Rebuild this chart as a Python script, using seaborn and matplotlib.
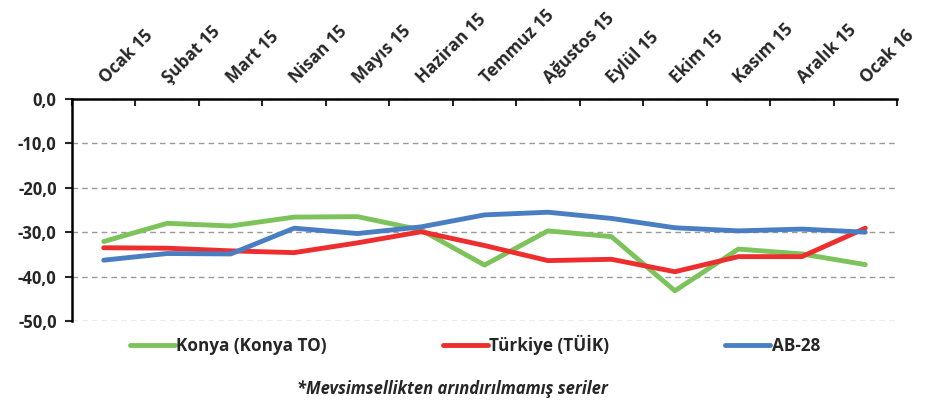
import numpy as np
import pandas as pd
import seaborn as sns
import matplotlib
matplotlib.use("Agg")
import matplotlib.pyplot as plt
import matplotlib.transforms as mtransforms
from matplotlib.ticker import FixedLocator, FuncFormatter

# months on the category axis
months = ["Ocak 15", "Şubat 15", "Mart 15", "Nisan 15", "Mayıs 15", "Haziran 15",
          "Temmuz 15", "Ağustos 15", "Eylül 15", "Ekim 15", "Kasım 15", "Aralık 15", "Ocak 16"]

# series values
konya = [-32.1, -28.0, -28.6, -26.6, -26.5, -29.5, -37.4, -29.7, -31.0, -43.2, -33.8, -34.9, -37.3]
turkiye = [-33.5, -33.6, -34.2, -34.6, -32.4, -29.9, -33.0, -36.4, -36.1, -38.9, -35.5, -35.5, -29.1]
ab28 = [-36.3, -34.8, -34.9, -29.1, -30.3, -28.8, -26.1, -25.5, -26.9, -29.0, -29.7, -29.3, -30.0]

series_names = ["Konya (Konya TO)", "Türkiye (TÜİK)", "AB-28"]
colors = ["#7dc35b", "#ee2e2e", "#4a7ec2"]
yticks = [0, -10, -20, -30, -40, -50]
footnote = "*Mevsimsellikten arındırılmamış seriler"

df = pd.DataFrame({
    "pos": list(range(len(months))) * 3,
    "value": konya + turkiye + ab28,
    "series": np.repeat(series_names, len(months)),
})

sns.set_style("white")
plt.rcParams["font.family"] = ["Open Sans", "DejaVu Sans"]

fig = plt.figure(figsize=(9.26, 4.04), dpi=100)
ax = fig.add_axes([72 / 926, 1 - 321 / 404, (897 - 72) / 926, (321 - 99) / 404])

sns.lineplot(data=df, x="pos", y="value", hue="series", palette=colors,
             hue_order=series_names, linewidth=3.5, ax=ax, legend=False)

ax.set_xlim(-0.5, len(months) - 0.5)
ax.set_ylim(-50, 0)

# x axis on top: ticks at category boundaries, month labels drawn above the centres
ax.xaxis.tick_top()
ax.set_xticks(range(len(months)))
ax.set_xticklabels([])
ax.xaxis.set_minor_locator(FixedLocator(np.arange(-0.5, len(months), 1.0)))
ax.tick_params(axis="x", which="major", length=0)
ax.tick_params(axis="x", which="minor", direction="in", length=5, width=1.5, top=True)

top_trans = mtransforms.blended_transform_factory(ax.transData, ax.transAxes)
top_trans = top_trans + mtransforms.ScaledTranslation(2 / 100, 15 / 100, fig.dpi_scale_trans)
for i, m in enumerate(months):
    ax.text(i, 1, m, transform=top_trans, rotation=45, ha="left", va="baseline",
            rotation_mode="anchor", fontsize=12.3, fontweight="bold", clip_on=False)

ax.set_yticks(yticks)
ax.yaxis.set_major_formatter(FuncFormatter(lambda v, p: f"{v:.1f}".replace(".", ",")))
ax.tick_params(axis="y", direction="out", length=5, width=1.5, labelsize=12, left=True, pad=6)
for lab in ax.get_yticklabels():
    lab.set_fontweight("bold")

ax.yaxis.grid(True, linestyle=(0, (4, 3)), color="#999999", linewidth=1)
ax.set_axisbelow(True)
ax.set_xlabel("")
ax.set_ylabel("")

for s in ["right", "bottom"]:
    ax.spines[s].set_visible(False)
for s in ["top", "left"]:
    ax.spines[s].set_color("black")
    ax.spines[s].set_linewidth(1.8)

handles = [plt.Line2D([], [], color=c, linewidth=3.5) for c in colors]
fig.legend(handles, series_names, ncol=3, loc="center left",
           bbox_to_anchor=(115 / 926, 1 - 345 / 404), frameon=False,
           handlelength=2.6, handletextpad=0.1, columnspacing=6.8,
           prop={"weight": "bold", "size": 12.3})

fig.text(452 / 926, 1 - 389 / 404, footnote, ha="center", va="center",
         fontsize=12, fontweight="bold", style="italic")

fig.savefig("out.png", dpi=100)
